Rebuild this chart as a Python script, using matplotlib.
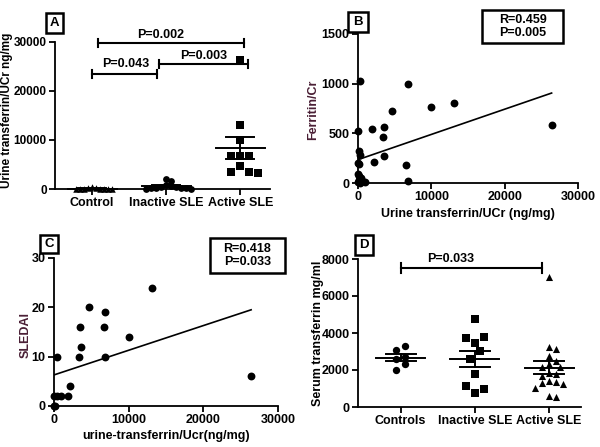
import numpy as np
import matplotlib
matplotlib.use("Agg")
import matplotlib.pyplot as plt
from matplotlib.patches import Rectangle

plt.rcParams['font.family'] = ['Liberation Sans', 'DejaVu Sans']
plt.rcParams['font.weight'] = 'bold'
plt.rcParams['axes.labelweight'] = 'bold'

# ---------------- data ----------------
# Panel A: urine transferrin / UCr (ng/mg)
a_groups = ["Control", "Inactive SLE", "Active SLE"]
a_control = [0, 0, 0, 50, 50, 100, 100, 150, 200, 350]
a_inactive = [2000, 1700, 800, 600, 500, 400, 300, 300, 200, 200, 100, 50]
a_active = [26400, 13000, 10000, 6700, 6700, 6700, 4600, 3500, 3300, 3500]
a_pvals = ["P=0.002", "P=0.043", "P=0.003"]

# Panel B: ferritin/Cr vs urine transferrin/UCr
b_x = [300, 6800, 4700, 10000, 13100, 26400, 1900, 3500, 3400, 3600, 2200,
       6600, 6800, 0, 100, 300, 0, 100, 0, 200, 400, 100, 600, 900, 0, 300]
b_y = [1030, 1000, 720, 770, 810, 580, 540, 560, 460, 270, 210,
       180, 25, 520, 320, 280, 200, 190, 90, 70, 50, 30, 20, 15, 10, 5]
b_fit = (0.02540, 235)   # slope, intercept
b_stats = ["R=0.459", "P=0.005"]

# Panel C: SLEDAI vs urine transferrin/Ucr
c_x = [13100, 4700, 6800, 3500, 6700, 3600, 3400, 6800, 10000, 400,
       2200, 1900, 0, 350, 900, 0, 200, 26400]
c_y = [24, 20, 19, 16, 16, 12, 10, 10, 14, 10,
       4, 2, 2, 2, 2, 0, 0, 6]
c_fit = (0.0005, 6.3)
c_stats = ["R=0.418", "P=0.033"]

# Panel D: serum transferrin (mg/ml)
d_groups = ["Controls", "Inactive SLE", "Active SLE"]
d_controls = [3300, 3100, 2700, 2600, 2300, 2000]
d_inactive = [4760, 3710, 3800, 3440, 3030, 2580, 1780, 1150, 970, 770]
d_active = [7050, 3250, 3150, 2750, 2500, 2150, 2150, 2300, 1850, 1800,
            1700, 1400, 1350, 1300, 1250, 1050, 600, 550]
d_pval = "P=0.033"

FS = 9
W, H = 600, 447
fig = plt.figure(figsize=(W / 100, H / 100), dpi=100)


def px_axes(l, r, t, b):
    return fig.add_axes([l / W, 1 - b / H, (r - l) / W, (b - t) / H])


def style(ax):
    for s in ['top', 'right']:
        ax.spines[s].set_visible(False)
    for s in ['left', 'bottom']:
        ax.spines[s].set_linewidth(1.3)
    ax.tick_params(direction='out', length=4, width=1.3, labelsize=FS, pad=2)
    for lab in ax.get_xticklabels() + ax.get_yticklabels():
        lab.set_fontweight('bold')


def ylab(txt, xpx, ypx, color='black', fs=FS):
    fig.text(xpx / W, 1 - ypx / H, txt, rotation=90, ha='center', va='center',
             fontsize=fs, fontweight='bold', color=color)


def panel_label(txt, l, r, t, b):
    fig.add_artist(Rectangle((l / W, 1 - b / H), (r - l) / W, (b - t) / H,
                             transform=fig.transFigure, fc='white', ec='black', lw=1.8))
    fig.text((l + r) / 2 / W, 1 - (t + b) / 2 / H, txt, ha='center', va='center',
             fontsize=FS + 0.5, fontweight='bold')


def stat_box(lines, l, r, t, b):
    fig.add_artist(Rectangle((l / W, 1 - b / H), (r - l) / W, (b - t) / H,
                             transform=fig.transFigure, fc='white', ec='black', lw=1.8))
    fig.text((l + r) / 2 / W, 1 - (t + b) / 2 / H, "\n".join(lines), ha='center', va='center',
             fontsize=FS, fontweight='bold', linespacing=1.1)


def swarm(ax, xc, vals, dmin):
    vals = np.asarray(vals, float)
    tr = ax.transData
    pts = tr.transform(np.column_stack([np.full(len(vals), xc), vals]))
    xc_px = pts[0, 0]
    ypx = pts[:, 1]
    placed = []
    xs = np.zeros(len(vals))
    order = np.argsort(-vals)
    offs = [0]
    for k in range(1, 30):
        offs += [k, -k]
    for i in order:
        for k in offs:
            x = xc_px + k * dmin * 0.5
            if all((x - px) ** 2 + (ypx[i] - py) ** 2 >= dmin ** 2 for px, py in placed):
                break
        placed.append((x, ypx[i]))
        xs[i] = x
    inv = tr.inverted()
    return inv.transform(np.column_stack([xs, ypx]))[:, 0]


def cycle_jitter(xc, vals, w, pattern):
    vals = np.asarray(vals, float)
    order = np.argsort(-vals, kind='stable')
    xs = np.zeros(len(vals))
    for rank, i in enumerate(order):
        xs[i] = xc + pattern[rank % len(pattern)] * w
    return xs


def mean_sem(ax, xc, vals, hw_mean=0.33, hw_sem=0.19):
    v = np.asarray(vals, float)
    m = v.mean()
    se = v.std(ddof=1) / np.sqrt(len(v))
    kw = dict(color='black', lw=1.4, clip_on=False, zorder=4)
    ax.plot([xc - hw_mean, xc + hw_mean], [m, m], **kw)
    ax.plot([xc - hw_sem, xc + hw_sem], [m + se, m + se], **kw)
    ax.plot([xc - hw_sem, xc + hw_sem], [m - se, m - se], **kw)
    ax.plot([xc, xc], [m - se, m + se], **kw)


def bracket(ax, x0, x1, y, cap, text, tx, ty):
    kw = dict(color='black', lw=1.5, clip_on=False)
    ax.plot([x0, x1], [y, y], **kw)
    ax.plot([x0, x0], [y - cap, y + cap], **kw)
    ax.plot([x1, x1], [y - cap, y + cap], **kw)
    ax.text(tx, ty, text, ha='center', va='bottom', fontsize=FS, fontweight='bold', clip_on=False)


# ---------------- Panel A ----------------
axA = px_axes(55, 270, 42, 189)
axA.set_xlim(-0.5, 2.4)
axA.set_ylim(0, 30000)
axA.set_yticks([0, 10000, 20000, 30000])
axA.set_xticks([0, 1, 2])
axA.set_xticklabels(a_groups)
style(axA)
axA.tick_params(axis='y', labelsize=8.5)
ylab("Urine transferrin/UCr ng/mg", 7, 110, fs=8.5)
for xc, vals, mk, dm, s in [(0, a_control, '^', 4.0, 22), (1, a_inactive, 'o', 5.0, 24),
                            (2, a_active, 's', 9.0, 30)]:
    xs = swarm(axA, xc, vals, dm)
    axA.scatter(xs, vals, marker=mk, s=s, color='black', clip_on=False, zorder=3, linewidths=0)
for xc, vals in [(0, a_control), (1, a_inactive), (2, a_active)]:
    mean_sem(axA, xc, vals)
bracket(axA, 0.08, 2.05, 29800, 800, a_pvals[0], 0.92, 30300)
bracket(axA, 0.0, 0.88, 23500, 800, a_pvals[1], 0.45, 24200)
bracket(axA, 0.9, 2.1, 25500, 800, a_pvals[2], 1.5, 26000)
panel_label("A", 46, 63, 13, 33)

# ---------------- Panel B ----------------
axB = px_axes(358, 578, 34, 183)
axB.set_xlim(0, 30000)
axB.set_ylim(0, 1500)
axB.set_xticks([0, 10000, 20000, 30000])
axB.set_yticks([0, 500, 1000, 1500])
style(axB)
axB.scatter(b_x, b_y, s=32, color='black', clip_on=False, zorder=3, linewidths=0)
xl = np.array([0, max(b_x)])
axB.plot(xl, b_fit[0] * xl + b_fit[1], color='black', lw=1.2)
axB.set_xlabel("Urine transferrin/UCr (ng/mg)", fontsize=FS, fontweight='bold', labelpad=3)
ylab("Ferritin/Cr", 313, 110, color='#4a1f35')
stat_box(b_stats, 482, 563, 10, 43)
panel_label("B", 348, 368, 12, 32)

# ---------------- Panel C ----------------
axC = px_axes(54, 278, 258, 406)
axC.set_xlim(0, 30000)
axC.set_ylim(0, 30)
axC.set_xticks([0, 10000, 20000, 30000])
axC.set_yticks([0, 10, 20, 30])
style(axC)
axC.scatter(c_x, c_y, s=32, color='black', clip_on=False, zorder=3, linewidths=0)
xl = np.array([0, max(c_x)])
axC.plot(xl, c_fit[0] * xl + c_fit[1], color='black', lw=1.2)
axC.set_xlabel("urine-transferrin/Ucr(ng/mg)", fontsize=FS, fontweight='bold', labelpad=3)
ylab("SLEDAI", 26, 335, color='#4a1f35')
stat_box(c_stats, 210, 285, 238, 273)
panel_label("C", 40, 58, 235, 253)

# ---------------- Panel D ----------------
axD = px_axes(358, 581, 259, 407)
axD.set_xlim(-0.575, 2.43)
axD.set_ylim(0, 8000)
axD.set_yticks([0, 2000, 4000, 6000, 8000])
axD.set_xticks([0, 1, 2])
axD.set_xticklabels(d_groups)
style(axD)
ylab("Serum transferrin mg/ml", 318, 333)
xs = cycle_jitter(0, d_controls, 0.06, [1, -1, 1, -1, 1, -1])
axD.scatter(xs, d_controls, marker='o', s=28, color='black', clip_on=False, zorder=3, linewidths=0)
xs = cycle_jitter(1, d_inactive, 0.12, [0, 1, -1, 0, 0.6, -0.6, 0, -1, 1, 0])
axD.scatter(xs, d_inactive, marker='s', s=28, color='black', clip_on=False, zorder=3, linewidths=0)
xs = swarm(axD, 2, d_active, 7.0)
axD.scatter(xs, d_active, marker='^', s=26, color='black', clip_on=False, zorder=3, linewidths=0)
for xc, vals in [(0, d_controls), (1, d_inactive), (2, d_active)]:
    mean_sem(axD, xc, vals, 0.33, 0.2)
bracket(axD, 0.0, 1.9, 7510, 250, d_pval, 0.68, 7650)
panel_label("D", 355, 373, 235, 255)

fig.savefig("out.png", dpi=100)
